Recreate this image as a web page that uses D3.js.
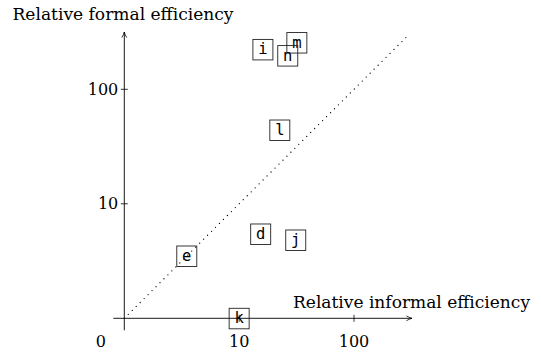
<!DOCTYPE html>
<html><head><meta charset="utf-8">
<script src="https://cdn.jsdelivr.net/npm/d3@7"></script>
<style>
html,body{margin:0;padding:0;background:#fff;}
svg{display:block;}
.serif{font-family:"DejaVu Serif",serif;}
.mono{font-family:"DejaVu Sans Mono",monospace;}
</style></head>
<body>
<script>
const labels = ["i","m","n","l","e","d","j","k"];
const informal = [16.1, 31.8, 26.5, 22.6, 3.5, 15.4, 31.1, 10];
const formal = [223, 256, 197, 44.1, 3.5, 5.45, 4.83, 1];
const xTicks = [10, 100];
const xTickLabels = ["10", "100"];
const yTicks = [10, 100];
const yTickLabels = ["10", "100"];
const originLabel = "0";
const diagonal = [1, 300];
const xTitle = "Relative informal efficiency";
const yTitle = "Relative formal efficiency";

const W = 541, H = 354;
const svg = d3.select("body").append("svg").attr("width", W).attr("height", H);

const x = d3.scaleLog().domain([1, 100]).range([124.3, 354]);
const y = d3.scaleLog().domain([1, 100]).range([318.3, 89.3]);

svg.append("defs").append("marker")
  .attr("id", "arr").attr("viewBox", "0 0 10 10").attr("refX", 9).attr("refY", 5)
  .attr("markerWidth", 7).attr("markerHeight", 7).attr("orient", "auto")
  .attr("markerUnits", "userSpaceOnUse")
  .append("path").attr("d", "M1,1.5 Q5,4 9,5 Q5,6 1,8.5").attr("fill", "none")
  .attr("stroke", "#000").attr("stroke-width", 1.1);

const x0 = x(1), y0 = y(1);
svg.append("line").attr("x1", x0 - 11).attr("x2", 412).attr("y1", y0).attr("y2", y0)
  .attr("stroke", "#000").attr("stroke-width", 0.9).attr("marker-end", "url(#arr)");
svg.append("line").attr("x1", x0).attr("x2", x0).attr("y1", y0 + 12).attr("y2", 32)
  .attr("stroke", "#000").attr("stroke-width", 0.9).attr("marker-end", "url(#arr)");

svg.selectAll(".xt").data(xTicks).enter().append("line")
  .attr("x1", d => x(d)).attr("x2", d => x(d)).attr("y1", y0 - 3.5).attr("y2", y0 + 3.5)
  .attr("stroke", "#000").attr("stroke-width", 0.8);
svg.selectAll(".yt").data(yTicks).enter().append("line")
  .attr("y1", d => y(d)).attr("y2", d => y(d)).attr("x1", x0 - 3.5).attr("x2", x0 + 3.5)
  .attr("stroke", "#000").attr("stroke-width", 0.8);

svg.selectAll(".xtl").data(xTicks).enter().append("text").attr("class", "serif")
  .attr("x", d => x(d)).attr("y", y0 + 29).attr("text-anchor", "middle")
  .attr("font-size", 16).text((d, i) => xTickLabels[i]);
svg.selectAll(".ytl").data(yTicks).enter().append("text").attr("class", "serif")
  .attr("x", x0 - 6).attr("y", d => y(d) + 5.5).attr("text-anchor", "end")
  .attr("font-size", 16).text((d, i) => yTickLabels[i]);
svg.append("text").attr("class", "serif").attr("x", x0 - 23.5).attr("y", y0 + 29).attr("text-anchor", "middle")
  .attr("font-size", 16).text(originLabel);

svg.append("text").attr("class", "serif").attr("x", 12.5).attr("y", 20)
  .attr("font-size", 16).attr("textLength", 221).attr("lengthAdjust", "spacingAndGlyphs").text(yTitle);
svg.append("text").attr("class", "serif").attr("x", 293).attr("y", 308)
  .attr("font-size", 16).attr("textLength", 237).attr("lengthAdjust", "spacingAndGlyphs").text(xTitle);

svg.append("line").attr("x1", x(diagonal[0])).attr("y1", y(diagonal[0]))
  .attr("x2", x(diagonal[1])).attr("y2", y(diagonal[1]))
  .attr("stroke", "#000").attr("stroke-width", 1.3).attr("stroke-linecap", "round")
  .attr("stroke-dasharray", "0 5.6");

const pts = labels.map((l, i) => ({l, xv: informal[i], yv: formal[i]}));
const g = svg.selectAll(".pt").data(pts).enter().append("g")
  .attr("transform", d => `translate(${x(d.xv)},${y(d.yv)})`);
g.append("rect").attr("x", -10).attr("y", -10).attr("width", 20).attr("height", 20.5)
  .attr("fill", "none").attr("stroke", "#222").attr("stroke-width", 0.9);
g.append("text").attr("class", "mono").attr("text-anchor", "middle").attr("y", 5)
  .attr("font-size", 15.5).text(d => d.l);
</script>
</body></html>
